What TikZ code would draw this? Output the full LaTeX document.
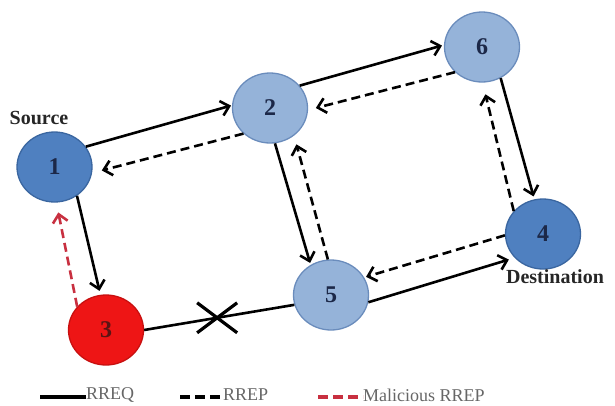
\documentclass[tikz,border=0pt]{standalone}
\usepackage{fontspec}
\setmainfont{Liberation Serif}
\usetikzlibrary{arrows.meta,shapes.geometric}
\definecolor{darkblue}{HTML}{4F80C0}
\definecolor{darkblueborder}{HTML}{3A66A0}
\definecolor{lightblue}{HTML}{95B3D9}
\definecolor{lightblueborder}{HTML}{6A8CBC}
\definecolor{rednode}{HTML}{EE1515}
\definecolor{rednodeborder}{HTML}{C81010}
\definecolor{numcol}{HTML}{1C2848}
\definecolor{malnum}{HTML}{5A1414}
\definecolor{malcol}{HTML}{C83040}
\definecolor{legcol}{HTML}{666666}
\begin{document}
\begin{tikzpicture}[x=1pt,y=-1pt,
  nodebase/.style={ellipse, draw, line width=1.3pt, minimum width=75pt, minimum height=70pt,
    inner sep=0pt, font=\fontsize{24}{28}\selectfont\bfseries, text=numcol},
  darknode/.style={nodebase, fill=darkblue, draw=darkblueborder},
  lightnode/.style={nodebase, fill=lightblue, draw=lightblueborder},
  malnode/.style={nodebase, fill=rednode, draw=rednodeborder, text=malnum},
  req/.style={line width=2.6pt, -{Straight Barb[length=8pt,width=15pt]}},
  rep/.style={line width=2.6pt, dash pattern=on 9pt off 5pt, -{Straight Barb[length=8pt,width=15pt]}},
  mal/.style={rep, draw=malcol},
  plainline/.style={line width=2.6pt},
  crossline/.style={line width=3.2pt},
  tag/.style={font=\fontsize{20}{24}\selectfont\bfseries, text=black!85},
  legtext/.style={font=\fontsize{18}{22}\selectfont, text=legcol, inner sep=0pt, anchor=west},
  legsolid/.style={line width=3.5pt},
  legdash/.style={line width=3.5pt, dash pattern=on 10pt off 5pt},
]
\useasboundingbox (0,0) rectangle (615,405);

% nodes
\node[darknode]  (n1) at (54.5,167) {1};
\node[lightnode] (n2) at (270,108) {2};
\node[lightnode] (n6) at (482,47) {6};
\node[darknode]  (n4) at (543,234) {4};
\node[lightnode] (n5) at (331,295) {5};
\node[malnode]   (n3) at (106,330) {3};

% labels
\node[tag] (src) at (39,118) {Source};
\node[tag] (dst) at (555,277) {Destination};

% RREQ (solid)
\draw[req, shorten >=1pt] (n1.33) -- (n2.176);
\draw[req, shorten >=2pt] (n2.37) -- (n6.177);
\draw[req, shorten >=3pt] (n6.-59) -- (n4.104);
\draw[req, shorten >=2pt] (n2.-82) -- (n5.124);
\draw[req, shorten >=6pt] (n5.-11) -- (n4.220);
\draw[req, shorten >=4pt] (n1.-52) -- (n3.99);

% RREP (dashed)
\draw[rep, shorten >=10pt] (n2.224) -- (n1.-9);
\draw[rep, shorten >=8pt] (n6.223) -- (n2.-3);
\draw[rep, shorten >=12pt] (n4.142) -- (n6.-89);
\draw[rep, shorten >=9pt] (n5.95) -- (n2.-49);
\draw[rep, shorten >=2pt] (n4.182) -- (n5.28);

% malicious RREP
\draw[mal, shorten >=10pt] (n3.141) -- (n1.-87);

% broken link 3 - 5
\draw[plainline] (n3.0) -- coordinate[pos=0.486] (brk) (n5.195);
\draw[crossline] (brk) ++(-20,-15) -- ++(40,30);
\draw[crossline] (brk) ++(-20,15) -- ++(40,-30);

% legend
\node[legtext] (l1) at (86,395) {RREQ};
\node[legtext] (l2) at (223,395) {RREP};
\node[legtext] (l3) at (363,395) {Malicious RREP};
\coordinate (s1) at (40,397);
\coordinate (s2) at (180,397);
\coordinate (s3) at (318,397);
\draw[legsolid] (s1) -- (s1 -| l1.west);
\draw[legdash] (s2) -- (s2 -| l2.west);
\draw[legdash, draw=malcol] (s3) -- (s3 -| l3.west);
\end{tikzpicture}
\end{document}
